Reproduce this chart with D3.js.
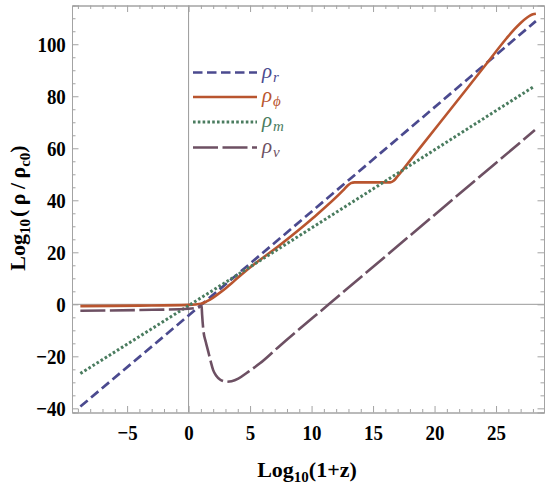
<!DOCTYPE html>
<html><head><meta charset="utf-8">
<script src="https://cdn.jsdelivr.net/npm/d3@7"></script>
<style>body{margin:0;background:#fff}svg{display:block}</style>
</head><body>
<svg id="c" width="545" height="491"></svg>
<script>
// ---- data ----
const xDomain = [-9.48, 28.9];
const yDomain = [-41.6, 114.9];
const xMajorTicks = [-5, 0, 5, 10, 15, 20, 25];
const yMajorTicks = [-40, -20, 0, 20, 40, 60, 80, 100];

const rhoR_x = [-8.8, 0, 28.24];
const rhoR_y = [-39.3, -4.3, 108.9];

const rhoPhi_x = [-8.8, -4, 0, 1.0, 1.5, 2.0, 2.5, 3.0, 3.5, 4.0, 4.72, 7.43, 10.14, 12.58, 12.9, 13.2, 13.5, 16.4, 16.7, 17.0, 18.67, 22.61, 24.24, 25.86, 26.5, 27.0, 27.5, 27.76, 28.0, 28.24];
const rhoPhi_y = [-0.7, -0.5, -0.2, 0.2, 1.2, 2.6, 4.3, 6.1, 8.1, 10.2, 13.1, 22.8, 33.3, 43.9, 45.5, 46.6, 46.9, 46.9, 47.6, 49.3, 59.3, 82.8, 92.6, 102.3, 105.8, 108.2, 110.2, 111.0, 111.5, 111.7];

const rhoM_x = [-8.8, 0, 28.0];
const rhoM_y = [-26.6, -0.5, 83.5];

const rhoNu_x = [-8.8, -4, 0, 0.8, 1.0, 1.06, 1.1, 1.2, 1.4, 1.6, 1.8, 2.0, 2.25, 2.55, 2.85, 3.1, 3.5, 4.04, 4.72, 5.8, 7.43, 11.4, 28.16];
const rhoNu_y = [-2.5, -2.2, -1.7, -1.2, -0.6, -1.0, -4.0, -9.9, -14.5, -18.2, -22.0, -25.3, -27.5, -28.9, -29.6, -29.8, -29.6, -28.6, -26.4, -22.7, -15.9, 0, 67.0];

const series = [
  {name: "r", xs: rhoR_x, ys: rhoR_y, color: "#4b4a8f", dash: "9.5,4.5", width: 2.7},
  {name: "\u03d5", xs: rhoPhi_x, ys: rhoPhi_y, color: "#b9552f", dash: null, width: 2.6},
  {name: "m", xs: rhoM_x, ys: rhoM_y, color: "#4a7c5f", dash: "2.6,2.2", width: 3},
  {name: "\u03bd", xs: rhoNu_x, ys: rhoNu_y, color: "#6d5063", dash: "25,4.5", width: 2.6}
];

// ---- layout ----
const L = 72, R = 544, T = 5.5, B = 412.5;
const svg = d3.select("#c");
const x = d3.scaleLinear().domain(xDomain).range([L, R]);
const y = d3.scaleLinear().domain(yDomain).range([B, T]);
const frameColor = "#a3a3a3";

// zero lines
svg.append("line").attr("x1", x(0)).attr("x2", x(0)).attr("y1", T).attr("y2", B)
  .attr("stroke", "#9a9a9a").attr("stroke-width", 1);
svg.append("line").attr("x1", L).attr("x2", R).attr("y1", y(0)).attr("y2", y(0))
  .attr("stroke", "#9a9a9a").attr("stroke-width", 1);

// minor ticks
const xMinor = d3.range(-9, 29, 1).filter(v => !xMajorTicks.includes(v));
const yMinor = d3.range(-40, 115, 5).filter(v => !yMajorTicks.includes(v));

function styleAxis(g) {
  g.select(".domain").attr("stroke", frameColor).attr("stroke-width", 1);
  g.selectAll(".tick line").attr("stroke", frameColor).attr("stroke-width", 1);
}
// bottom
svg.append("g").attr("transform", `translate(0,${B})`)
  .call(d3.axisBottom(x).tickValues(xMinor).tickSize(-3.5).tickFormat(""))
  .call(styleAxis);
const gxb = svg.append("g").attr("transform", `translate(0,${B})`)
  .call(d3.axisBottom(x).tickValues(xMajorTicks).tickSize(-6.5).tickFormat(d3.format("d")))
  .call(styleAxis);
// top
svg.append("g").attr("transform", `translate(0,${T})`)
  .call(d3.axisTop(x).tickValues(xMinor).tickSize(-3.5).tickFormat(""))
  .call(styleAxis);
svg.append("g").attr("transform", `translate(0,${T})`)
  .call(d3.axisTop(x).tickValues(xMajorTicks).tickSize(-6.5).tickFormat(""))
  .call(styleAxis);
// left
svg.append("g").attr("transform", `translate(${L},0)`)
  .call(d3.axisLeft(y).tickValues(yMinor).tickSize(-3.5).tickFormat(""))
  .call(styleAxis);
const gyl = svg.append("g").attr("transform", `translate(${L},0)`)
  .call(d3.axisLeft(y).tickValues(yMajorTicks).tickSize(-6.5).tickFormat(d3.format("d")))
  .call(styleAxis);
// right
svg.append("g").attr("transform", `translate(${R},0)`)
  .call(d3.axisRight(y).tickValues(yMinor).tickSize(-3.5).tickFormat(""))
  .call(styleAxis);
svg.append("g").attr("transform", `translate(${R},0)`)
  .call(d3.axisRight(y).tickValues(yMajorTicks).tickSize(-6.5).tickFormat(""))
  .call(styleAxis);

const tickFont = "'Liberation Serif','Times New Roman',serif";
gxb.selectAll(".tick text")
  .attr("y", 27.5).attr("dy", 0)
  .attr("transform", "scale(0.86,1)")
  .style("font-family", tickFont).style("font-weight", "bold").style("font-size", "22px")
  .attr("fill", "#000");
gyl.selectAll(".tick text")
  .attr("x", -7.2).attr("dy", "0.34em")
  .attr("transform", "scale(0.86,1)")
  .style("font-family", tickFont).style("font-weight", "bold").style("font-size", "22px")
  .attr("fill", "#000");

// lines
const line = d3.line().x(d => x(d[0])).y(d => y(d[1])).curve(d3.curveMonotoneX);
series.forEach(s => {
  const pts = s.xs.map((v, i) => [v, s.ys[i]]);
  svg.append("path").datum(pts).attr("d", line)
    .attr("fill", "none").attr("stroke", s.color).attr("stroke-width", s.width)
    .attr("stroke-dasharray", s.dash);
});

// legend
const legY = [72.5, 97, 122, 147.5];
series.forEach((s, i) => {
  svg.append("line").attr("x1", 193).attr("x2", 257).attr("y1", legY[i]).attr("y2", legY[i])
    .attr("stroke", s.color).attr("stroke-width", s.width).attr("stroke-dasharray", s.dash);
  const t = svg.append("text").attr("x", 262).attr("y", legY[i] + 5)
    .attr("fill", s.color).style("font-family", tickFont).style("font-style", "italic");
  t.append("tspan").text("\u03c1").style("font-size", "21px");
  t.append("tspan").text(s.name).attr("dy", 4).attr("dx", 1).style("font-size", "15px");
});

// axis titles
const xt = svg.append("text").attr("x", 307).attr("y", 476.5).attr("text-anchor", "middle")
  .style("font-family", tickFont).style("font-weight", "bold").style("font-size", "22px");
xt.append("tspan").text("Log");
xt.append("tspan").text("10").attr("dy", 5).style("font-size", "15px");
xt.append("tspan").text("(1+z)").attr("dy", -5);

const yt = svg.append("text").attr("transform", "translate(25,208) rotate(-90)")
  .attr("text-anchor", "middle")
  .style("font-family", tickFont).style("font-weight", "bold").style("font-size", "22px");
yt.append("tspan").text("Log");
yt.append("tspan").text("10").attr("dy", 5).style("font-size", "15px");
yt.append("tspan").text("(\u2009\u03c1\u2009/\u2009\u03c1").attr("dy", -5).attr("dx", 2);
yt.append("tspan").text("c0").attr("dy", 5).style("font-size", "15px");
yt.append("tspan").text(")").attr("dy", -5);
</script>
</body></html>
